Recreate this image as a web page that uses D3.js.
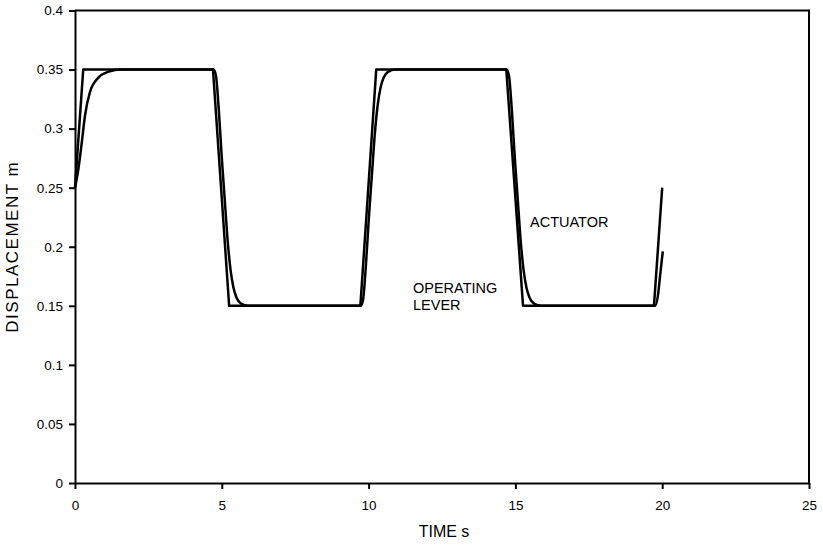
<!DOCTYPE html>
<html>
<head>
  <meta charset="utf-8">
  <script src="https://d3js.org/d3.v7.min.js"></script>
  <style>
    body { margin: 0; background: white; }
    svg { display: block; font-family: "Liberation Sans", Arial, sans-serif; }
    .axis path, .axis line { stroke: #000; stroke-width: 2; }
    .axis text { font-size: 13.5px; fill: #000; }
  </style>
</head>
<body>
<script>
  // operating lever: [time s, displacement m]
  var leverTime  = [0, 0.28, 4.70, 5.25, 9.72, 10.26, 14.69, 15.26, 19.72, 20.0];
  var leverDisp  = [0.25, 0.35, 0.35, 0.15, 0.15, 0.35, 0.35, 0.15, 0.15, 0.25];

  // actuator
  var actTime = [0, 0.11, 0.23, 0.34, 0.51, 0.79, 1.12, 1.6,
                 4.72, 4.80, 4.90, 5.00, 5.10, 5.20, 5.30, 5.40, 5.50, 5.65, 5.90,
                 9.73, 9.81, 9.91, 10.01, 10.11, 10.21, 10.31, 10.41, 10.51, 10.66, 10.91,
                 14.70, 14.78, 14.88, 14.98, 15.08, 15.18, 15.28, 15.38, 15.48, 15.63, 15.88,
                 19.76, 19.85, 19.93, 20.02];
  var actDisp = [0.25, 0.265, 0.288, 0.311, 0.331, 0.343, 0.348, 0.35,
                 0.35, 0.345, 0.315, 0.275, 0.24, 0.205, 0.18, 0.165, 0.157, 0.152, 0.15,
                 0.15, 0.155, 0.185, 0.225, 0.26, 0.295, 0.32, 0.335, 0.343, 0.348, 0.35,
                 0.35, 0.345, 0.315, 0.275, 0.24, 0.205, 0.18, 0.165, 0.157, 0.152, 0.15,
                 0.15, 0.158, 0.176, 0.196];

  var xTicks = [0, 5, 10, 15, 20, 25];
  var yTicks = [0, 0.05, 0.1, 0.15, 0.2, 0.25, 0.3, 0.35, 0.4];
  var yTickLabels = ["0", "0.05", "0.1", "0.15", "0.2", "0.25", "0.3", "0.35", "0.4"];

  var width = 823, height = 546;
  var pLeft = 75, pRight = 809, pTop = 10.5, pBottom = 483;

  var svg = d3.select("body").append("svg")
    .attr("width", width)
    .attr("height", height);

  var x = d3.scaleLinear().domain([0, 25]).range([pLeft, pRight]);
  var y = d3.scaleLinear().domain([0, 0.4]).range([pBottom, pTop]);

  // frame on top and right
  svg.append("path")
    .attr("d", "M" + pLeft + "," + pTop + "H" + pRight + "V" + pBottom)
    .attr("fill", "none")
    .attr("stroke", "#000")
    .attr("stroke-width", 2);

  svg.append("g")
    .attr("class", "axis")
    .attr("transform", "translate(0," + pBottom + ")")
    .call(d3.axisBottom(x).tickValues(xTicks).tickSize(6).tickSizeOuter(0).tickPadding(11)
      .tickFormat(function(d){ return d; }));

  svg.append("g")
    .attr("class", "axis")
    .attr("transform", "translate(" + pLeft + ",0)")
    .call(d3.axisLeft(y).tickValues(yTicks).tickSize(6).tickSizeOuter(0).tickPadding(6)
      .tickFormat(function(d, i){ return yTickLabels[i]; }));

  var line = d3.line()
    .x(function(d){ return x(d[0]); })
    .y(function(d){ return y(d[1]); });

  var lever = leverTime.map(function(t, i){ return [t, leverDisp[i]]; });
  var act = actTime.map(function(t, i){ return [t, actDisp[i]]; });

  svg.append("path")
    .datum(lever)
    .attr("d", line)
    .attr("fill", "none")
    .attr("stroke", "#000")
    .attr("stroke-width", 2.5)
    .attr("stroke-linejoin", "round");

  svg.append("path")
    .datum(act)
    .attr("d", d3.line().x(function(d){ return x(d[0]); }).y(function(d){ return y(d[1]); }).curve(d3.curveMonotoneX))
    .attr("fill", "none")
    .attr("stroke", "#000")
    .attr("stroke-width", 2.5);

  // labels
  svg.append("text")
    .attr("x", 530).attr("y", 226.5)
    .attr("font-size", "14.5px")
    .text("ACTUATOR");

  var op = svg.append("text")
    .attr("x", 413).attr("y", 292.5)
    .attr("font-size", "14.5px");
  op.append("tspan").attr("x", 413).text("OPERATING");
  op.append("tspan").attr("x", 413).attr("dy", 17.5).text("LEVER");

  svg.append("text")
    .attr("x", (pLeft + pRight) / 2 + 2).attr("y", 537)
    .attr("text-anchor", "middle")
    .attr("font-size", "16px")
    .text("TIME s");

  svg.append("text")
    .attr("transform", "translate(18," + ((pTop + pBottom) / 2) + ") rotate(-90)")
    .attr("text-anchor", "middle")
    .attr("font-size", "17px")
    .attr("letter-spacing", "1.5px")
    .text("DISPLACEMENT m");
</script>
</body>
</html>
